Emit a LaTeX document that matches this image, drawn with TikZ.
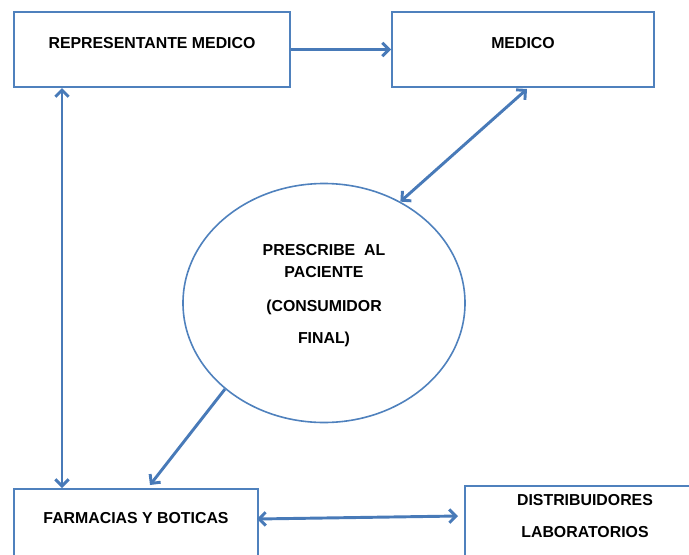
\documentclass[tikz,border=0pt]{standalone}
\usepackage{fontspec}
\setmainfont{Liberation Sans}
\usepackage{tikz}
\usetikzlibrary{arrows.meta,calc,positioning,shapes.geometric}
\definecolor{CajaAzul}  {RGB}{79, 129, 189}
\definecolor{FlechaAzul}{RGB}{72, 122, 184}
\tikzset{
  caja/.style={draw=CajaAzul,line width=1.5pt,rectangle,inner sep=0pt,
               font=\fontsize{11.9}{14}\selectfont\bfseries,align=center,
               text depth=9.5pt},
  elipse/.style={draw=CajaAzul,line width=1.2pt,ellipse,inner sep=0pt,
               font=\fontsize{11.9}{16.5}\selectfont\bfseries,align=center,
               text depth=13.5pt},
  punta/.tip={Straight Barb[length=5pt,width=10pt]},
  flecha/.style={FlechaAzul,line width=2.2pt,-punta},
  dflecha/.style={FlechaAzul,line width=2.2pt,punta-punta}
}

\begin{document}
\begin{tikzpicture}[x=0.75pt,y=-0.75pt]
\useasboundingbox (0,0) rectangle (689,554);
\clip (0,0) rectangle (689,554);
\node[caja,minimum width=207pt,minimum height=56.25pt] (rep) at (152,49.5) {REPRESENTANTE MEDICO};
\node[caja,minimum width=196.5pt,minimum height=56.25pt] (medico) at (523,49.5) {MEDICO};
\node[elipse,minimum width=211.5pt,minimum height=179.25pt] (paciente) at (324,303)
  {PRESCRIBE\ \ AL\\PACIENTE\\[9pt](CONSUMIDOR\\[7.5pt]FINAL)};
\node[caja,minimum width=183pt,minimum height=52.5pt] (farmacias) at (136,524) {FARMACIAS Y BOTICAS};
\node[caja,minimum width=180pt,minimum height=52.5pt,text depth=7.5pt] (distrib) at (585,521)
  {DISTRIBUIDORES\\[10pt]LABORATORIOS};
% conexiones
\draw[flecha] (rep.east) -- (medico.west);
\draw[dflecha] ($(medico.south)+(4,1)$) -- (paciente.53);
\draw[dflecha] (62,0 |- rep.south) -- (62,0 |- farmacias.north);
\draw[flecha] (paciente.221) -- ($(farmacias.north)+(14,-3)$);
\draw[dflecha] ($(farmacias.east)+(-2,-5)$) -- ($(distrib.west)+(-6,-5)$);
\end{tikzpicture}
\end{document}
